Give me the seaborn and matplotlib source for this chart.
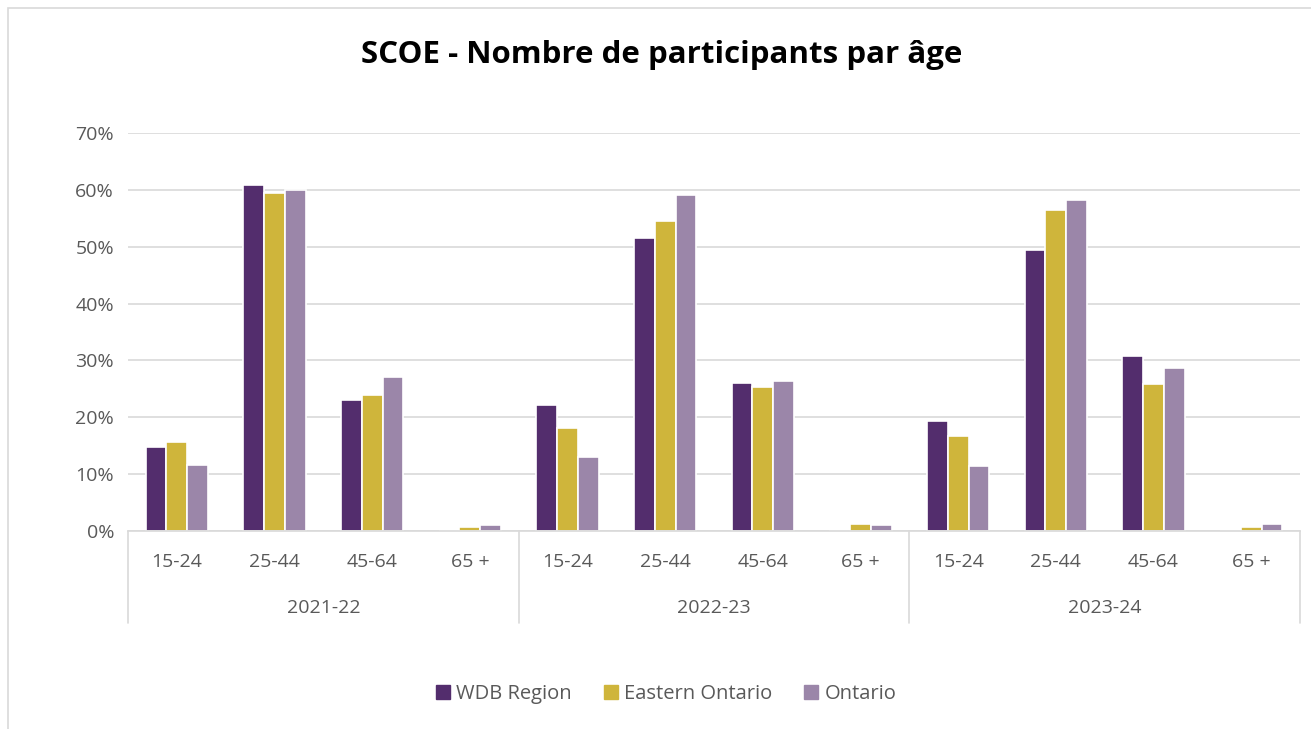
import pandas as pd
import seaborn as sns
import matplotlib.pyplot as plt
from matplotlib.patches import Rectangle
from matplotlib.ticker import PercentFormatter
import matplotlib.transforms as mtransforms

# data (share of participants)
years = ['2021-22', '2022-23', '2023-24']
ages = ['15-24', '25-44', '45-64', '65 +']
series = ['WDB Region', 'Eastern Ontario', 'Ontario']
wdb = [14.7, 60.8, 23.1, 0.0, 22.1, 51.6, 26.0, 0.0, 19.4, 49.5, 30.8, 0.0]
eastern = [15.6, 59.5, 23.9, 0.7, 18.2, 54.5, 25.4, 1.3, 16.7, 56.5, 25.8, 0.7]
ontario = [11.6, 59.9, 27.0, 1.1, 13.1, 59.1, 26.3, 1.1, 11.5, 58.3, 28.7, 1.3]
colors = ['#532D6D', '#CFB53B', '#9B86A9']

cats = [f'{y}|{a}' for y in years for a in ages]
rows = []
for name, vals in zip(series, [wdb, eastern, ontario]):
    for c, v in zip(cats, vals):
        rows.append({'cat': c, 'series': name, 'value': v / 100})
df = pd.DataFrame(rows)

sns.set_style('white')
plt.rcParams['font.family'] = ['Open Sans', 'DejaVu Sans']
fig = plt.figure(figsize=(13.11, 7.29), dpi=100)
ax = fig.add_axes([128 / 1311, 1 - 531 / 729, 1172 / 1311, 398 / 729])

sns.barplot(data=df, x='cat', y='value', hue='series', order=cats,
            hue_order=series, palette=colors, saturation=1, width=0.64,
            edgecolor='white', linewidth=1.2, ax=ax, legend=True)

ax.set_ylim(0, 0.7)
ax.set_xlim(-0.5, len(cats) - 0.5)
ax.yaxis.set_major_formatter(PercentFormatter(1.0, decimals=0))
ax.set_yticks([i / 10 for i in range(8)])
ax.grid(axis='y', color='#D9D9D9', linewidth=1.2)
ax.set_axisbelow(True)
for s in ['top', 'right', 'left']:
    ax.spines[s].set_visible(False)
ax.spines['bottom'].set_color('#D9D9D9')
ax.spines['bottom'].set_linewidth(1.2)
ax.set_xlabel('')
ax.set_ylabel('')
ax.set_xticks(range(len(cats)))
ax.set_xticklabels([c.split('|')[1] for c in cats])
ax.tick_params(axis='both', length=0, labelsize=14, colors='#595959', pad=10)
ax.tick_params(axis='x', pad=16)

# group labels and separators under the axis
trans = mtransforms.blended_transform_factory(ax.transData, ax.transAxes)
n = len(ages)
for i, y in enumerate(years):
    ax.text(i * n + (n - 1) / 2, -0.193, y, transform=trans, ha='center',
            va='center', fontsize=14, color='#595959')
for i in range(len(years) + 1):
    ax.plot([i * n - 0.5] * 2, [0, -0.23], transform=trans, color='#D9D9D9',
            linewidth=1.2, clip_on=False)

ax.get_legend().remove()
handles = [Rectangle((0, 0), 1, 1, color=c) for c in colors]
fig.legend(handles, series, loc='center', bbox_to_anchor=(0.508, 1 - 694 / 729),
           ncol=3, frameon=False, fontsize=14.5, handlelength=0.7,
           handleheight=0.7, handletextpad=0.3, columnspacing=1.6,
           labelcolor='#595959')

fig.text(0.505, 1 - 55 / 729, 'SCOE - Nombre de participants par âge',
         ha='center', va='center', fontsize=22.5, fontweight='bold', color='black')

fig.patches.append(Rectangle((8 / 1311, -0.01), 1.02, 1 - 8 / 729 + 0.01,
                             transform=fig.transFigure, fill=False,
                             edgecolor='#D9D9D9', linewidth=1.2))

fig.savefig('out.png', dpi=100)
